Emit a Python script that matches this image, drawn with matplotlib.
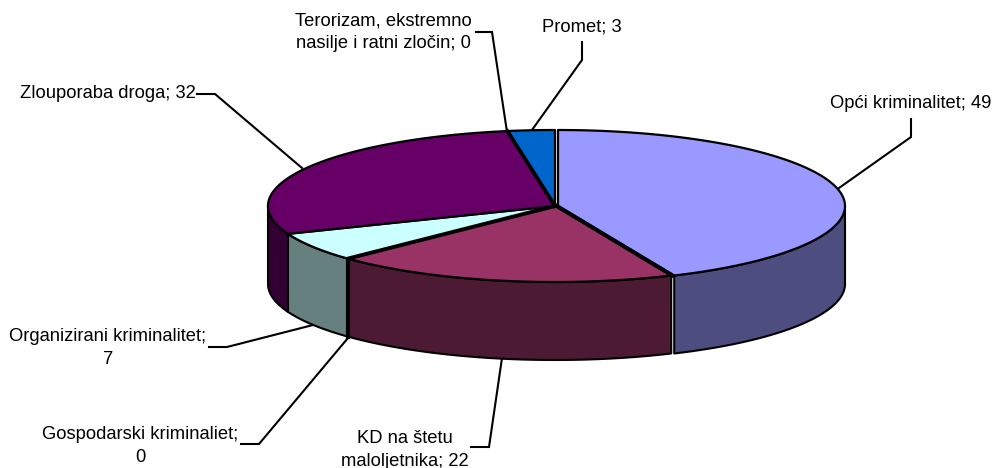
import matplotlib
matplotlib.use('Agg')
import matplotlib.pyplot as plt
import numpy as np

plt.rcParams['font.family'] = ['Liberation Sans', 'DejaVu Sans']

names = ['Opći kriminalitet', 'KD na štetu\nmaloljetnika', 'Gospodarski kriminaliet;\n', 'Organizirani kriminalitet;\n',
         'Zlouporaba droga', 'Terorizam, ekstremno\nnasilje i ratni zločin', 'Promet']
values = [49, 22, 0, 7, 32, 0, 3]
top_cols = ['#9999FF', '#993366', '#FFFFCC', '#CCFFFF', '#660066', '#FF8080', '#0066CC']
side_cols = ['#4D4D80', '#4D1A33', '#808066', '#668080', '#330033', '#804040', '#003366']
explode = [3, 0, 0, 0, 0, 0, 0]

# label centre x,y in pixels
label_pos = [(911, 104), (405, 450), (140, 446), (108, 348), (108, 93), (383, 32), (582, 27)]
leaders = [
    [(839, 188), (911, 137), (911, 119)],
    [(502, 358), (489, 447), (471, 447)],
    [(348, 338), (259, 444), (241, 444)],
    [(313, 325), (227, 347), (209, 347)],
    [(302, 168), (215, 94), (197, 94)],
    [(507, 132), (492, 32), (476, 32)],
    [(532, 130), (582, 60), (582, 42)],
]

cx, cy = 555, 206
rx, ry = 287, 76
depth = 78


def rim(a, b, dx=0, dy=0):
    t = np.radians(np.linspace(a, b, max(2, int(abs(b - a)) * 2)))
    return cx + dx + rx * np.sin(t), cy + dy - ry * np.cos(t)


fig = plt.figure(figsize=(9.94, 4.68), dpi=100)
ax = fig.add_axes([0, 0, 1, 1])
ax.set_xlim(0, 994)
ax.set_ylim(468, 0)
ax.axis('off')

angles = np.concatenate([[0], np.cumsum(values) / sum(values) * 360])

for pts in leaders:
    xs, ys = zip(*pts)
    ax.plot(xs, ys, color='black', lw=1.5, solid_joinstyle='miter', zorder=1)

# sides, only the front half of the pie shows
for i in range(len(values)):
    a = max(angles[i], 90)
    b = min(angles[i + 1], 270)
    if b < a:
        continue
    x, y = rim(a, b, explode[i])
    if values[i] == 0:
        ax.plot([x[0], x[0]], [y[0], y[0] + depth], color='black', lw=3, zorder=2.5)
    else:
        ax.fill(np.r_[x, x[::-1]], np.r_[y, y[::-1] + depth], fc=side_cols[i], ec='black', lw=1.5, joinstyle='round', zorder=2)

# tops
for i in range(len(values)):
    x, y = rim(angles[i], angles[i + 1], explode[i])
    if values[i] == 0:
        ax.plot([cx, x[0]], [cy, y[0]], color='black', lw=2.8, zorder=4)
    else:
        ax.fill(np.r_[cx + explode[i], x], np.r_[cy, y], fc=top_cols[i], ec='black', lw=1.6, joinstyle='round', zorder=3)

# heavy edge where the first slice is pulled out
x, y = rim(angles[1], angles[1])
ax.plot([cx + 2, x[0] + 1], [cy, y[0]], color='black', lw=2.8, zorder=4)

for name, val, (lx, ly) in zip(names, values, label_pos):
    sep = '' if name.endswith('\n') else '; '
    ax.text(lx, ly, f'{name}{sep}{val}', ha='center', va='center', fontsize=13.2,
            color='black', linespacing=1.4)

fig.savefig('out.png', dpi=100)
